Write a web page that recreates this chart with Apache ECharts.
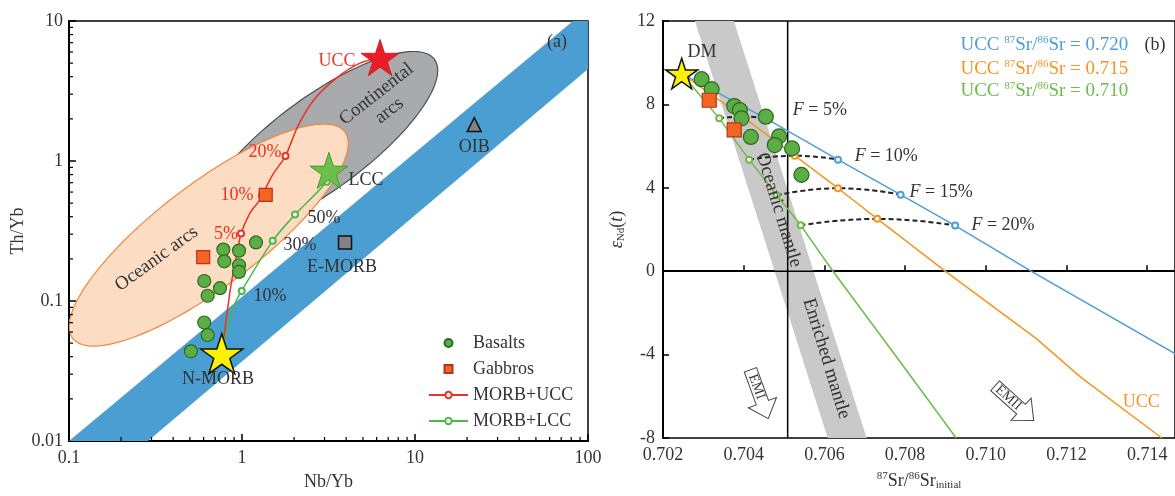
<!DOCTYPE html>
<html><head><meta charset="utf-8">
<script src="https://cdn.jsdelivr.net/npm/echarts@6/dist/echarts.min.js"></script>
<style>html,body{margin:0;padding:0;background:#fff}#c{width:1175px;height:496px}</style>
</head><body><div id="c"></div>
<script>
// ---------------- Panel (a) data: Nb/Yb vs Th/Yb ----------------
const LEFT_BASALTS = [[0.780,0.233],[0.961,0.229],[1.205,0.262],[0.790,0.192],[0.961,0.180],[0.961,0.1615],
  [0.605,0.139],[0.746,0.1235],[0.633,0.109],[0.605,0.0702],[0.633,0.0571],[0.507,0.0437]];
const LEFT_GABBROS = [[0.597,0.206],[1.371,0.572]];
const N_MORB = [0.764,0.042];
const UCC_A = [6.28,5.48];
const LCC_A = [3.18,0.857];
const OIB = [22.0,1.82];
const E_MORB = [3.94,0.262];
const MORB_UCC = [[0.764,0.042],[0.852,0.117],[0.891,0.161],[0.954,0.248],[0.987,0.303],[1.112,0.425],[1.27,0.528],
  [1.305,0.566],[1.517,0.811],[1.784,1.084],[2.107,1.78],[2.64,2.796],[3.59,3.99],[4.81,4.997],[6.28,5.48]];
const MORB_UCC_MARKS = [4,7,9];
const MORB_LCC = [[0.764,0.042],[0.872,0.0848],[0.996,0.118],[1.505,0.269],[2.025,0.414],[3.09,0.71],[3.18,0.857]];
const MORB_LCC_MARKS = [2,3,4,5];
// MORB-OIB array band corners, ellipse parameters (log10 units: centre, major half-axis, minor half-axis)
const ARRAY_BAND = [[0.1,0.01],[81.9,10],[100,10],[100,4.54],[0.286,0.01]];
const CONT_ARCS = {c:[0.4509,0.1240], M:[0.6604,0.6033], m:[0.1636,-0.2632]};
const OCEAN_ARCS = {c:[-0.1925,-0.529], M:[0.7854,0.7389], m:[0.1843,-0.2878]};
const LEFT_X_MINOR = [0.2,0.3,0.4,0.5,0.6,0.7,0.8,0.9,2,3,4,5,6,7,8,9,20,30,40,50,60,70,80,90];
const LEFT_Y_MINOR = [0.02,0.03,0.04,0.05,0.06,0.07,0.08,0.09,0.2,0.3,0.4,0.5,0.6,0.7,0.8,0.9,2,3,4,5,6,7,8,9];

// ---------------- Panel (b) data: 87Sr/86Sr vs eNd(t) ----------------
const RIGHT_BASALTS = [[0.702957,9.21],[0.703205,8.73],[0.703764,7.92],[0.703905,7.73],[0.703947,7.33],[0.704548,7.41],
  [0.704177,6.44],[0.704877,6.47],[0.704771,6.05],[0.705199,5.89],[0.705431,4.62]];
const RIGHT_GABBROS = [[0.703146,8.2],[0.703764,6.78]];
const DM = [0.702463,9.48];
const MIX_720 = [[0.702463,9.48],[0.704548,7.33],[0.706337,5.35],[0.707888,3.67],[0.709241,2.19],[0.711122,0],[0.7148,-4.08]];
const MIX_720_MARKS = [1,2,3,4];
const MIX_715 = [[0.702463,9.48],[0.703994,7.38],[0.705266,5.54],[0.706337,3.98],[0.707312,2.51],[0.708994,0],[0.711245,-3.22],[0.712359,-5.09],[0.714363,-8]];
const MIX_715_MARKS = [1,2,3,4];
const MIX_710 = [[0.702463,9.48],[0.703393,7.33],[0.704135,5.35],[0.70482,3.64],[0.705414,2.20],[0.706213,0],[0.707863,-4.31],[0.709266,-8]];
const MIX_710_MARKS = [1,2,3,4];
const F5 = [[0.703393,7.33],[0.703994,7.42],[0.704548,7.33]];
const F10 = [[0.704135,5.35],[0.705266,5.54],[0.706337,5.35]];
const F15 = [[0.70482,3.64],[0.706337,3.98],[0.707888,3.67]];
const F20 = [[0.705414,2.20],[0.707312,2.51],[0.709241,2.19]];
const MANTLE_BAND = [[0.702792,12],[0.703757,12],[0.707047,-8],[0.706082,-8]];
const VLINE_X = 0.70509;
const HLINE_Y = 0;

// ---------------- styles ----------------
const FONT = 'Liberation Serif';
const TXT = '#333';
const RED = '#ee3124', GRN = '#4cb848';
const BLUE_L = '#4a9fd8', ORANGE_L = '#f7941d', GREEN_L = '#6abd45';
const STAR = 'path://M50 0 L61.23 34.55 L97.55 34.55 L68.16 55.9 L79.39 90.45 L50 69.1 L20.61 90.45 L31.84 55.9 L2.45 34.55 L38.77 34.55 Z';
const SQUARE = 'path://M0 0 L10 0 L10 10 L0 10 Z';

function ellipsePts(e){
  const pts=[];
  for(let i=0;i<=144;i++){const t=2*Math.PI*i/144;
    const lx=e.c[0]+Math.cos(t)*e.M[0]+Math.sin(t)*e.m[0];
    const ly=e.c[1]+Math.cos(t)*e.M[1]+Math.sin(t)*e.m[1];
    pts.push([Math.pow(10,lx),Math.pow(10,ly)]);}
  return pts;
}
function areaSeries(gi, pts, fill, stroke, z){
  return {type:'custom', xAxisIndex:gi, yAxisIndex:gi, clip:true, silent:true, z:z,
    data:[pts[0]], encode:{x:0,y:1},
    renderItem:(p,api)=>({type:'polygon', shape:{points:pts.map(q=>api.coord(q))},
      style:{fill:fill, stroke:stroke||null, lineWidth:stroke?1.2:0}})};
}
function markData(pts, marks){
  return pts.map((p,i)=>marks.indexOf(i)>=0?{value:p}:{value:p, symbol:'none'});
}
function mixLine(gi, name, pts, marks, color, z){
  return {type:'line', name:name, xAxisIndex:gi, yAxisIndex:gi, data:markData(pts,marks), smooth:0.25,
    symbol:'emptyCircle', symbolSize:6, showSymbol:true, z:z||3,
    lineStyle:{color:color,width:1.5}, itemStyle:{color:color, borderWidth:1.3}, silent:true};
}
function dashLine(pts){
  return {type:'line', xAxisIndex:1, yAxisIndex:1, data:pts, smooth:0.5, symbol:'none', z:2, silent:true,
    lineStyle:{color:'#222', width:2, type:[5,3]}};
}
const basaltStyle = {color:'#5cad45', borderColor:'#2b6a20', borderWidth:1.2, opacity:1};
const gabbroStyle = {color:'#f26522', borderColor:'#b8321f', borderWidth:1.2, opacity:1};
const labelStyle = {fontFamily:FONT, fontSize:18, color:TXT};
function refItem(v, sym, size, fill, border, bw){
  return {value:v, symbol:sym, symbolSize:size, itemStyle:{color:fill, borderColor:border, borderWidth:bw, opacity:1}};
}

const chart = echarts.init(document.getElementById('c'));
const option = {
  animation:false,
  backgroundColor:'#fff',
  grid:[
    {left:69, top:21, width:519, height:428, show:true, borderColor:'#000', borderWidth:1.5, backgroundColor:'transparent'},
    {left:663, top:21, width:513, height:428, show:true, borderColor:'#000', borderWidth:1.5, backgroundColor:'transparent'}
  ],
  legend:{data:[{name:'Basalts'},{name:'Gabbros', icon:SQUARE},{name:'MORB+UCC'},{name:'MORB+LCC'}],
    orient:'vertical', left:428, top:334,
    itemWidth:39, itemHeight:8, itemGap:8, selectedMode:false, padding:0,
    textStyle:{fontFamily:FONT, fontSize:18, color:TXT, lineHeight:18}},
  xAxis:[
    {gridIndex:0, type:'log', logBase:10, min:0.1, max:100,
     axisLine:{lineStyle:{color:'#000',width:2}}, axisTick:{inside:true,length:7,lineStyle:{color:'#000',width:1.5}},
     axisLabel:Object.assign({margin:8, formatter:v=>String(+(+v).toPrecision(6))}, labelStyle),
     splitLine:{show:false}, name:'Nb/Yb', nameLocation:'middle', nameGap:32,
     nameTextStyle:{fontFamily:FONT, fontSize:18, color:TXT}},
    {gridIndex:1, type:'value', min:0.702, max:0.71469, interval:0.002,
     axisLine:{lineStyle:{color:'#000',width:2}}, axisTick:{inside:true,length:6,lineStyle:{color:'#000',width:1.5}},
     axisLabel:Object.assign({margin:8, showMaxLabel:false, formatter:v=>(+v).toFixed(3)}, labelStyle),
     splitLine:{show:false}, name:'{sup|87}Sr/{sup|86}Sr{sub|initial}', nameLocation:'middle', nameGap:33,
     nameTextStyle:{fontFamily:FONT, fontSize:18, color:TXT, lineHeight:20, rich:{
       sup:{fontFamily:FONT, fontSize:11, color:TXT, verticalAlign:'top', lineHeight:11},
       sub:{fontFamily:FONT, fontSize:11, color:TXT, verticalAlign:'bottom', lineHeight:11}}}}
  ],
  yAxis:[
    {gridIndex:0, type:'log', logBase:10, min:0.01, max:10,
     axisLine:{lineStyle:{color:'#000',width:2}}, axisTick:{inside:true,length:7,lineStyle:{color:'#000',width:1.5}},
     axisLabel:Object.assign({margin:6, formatter:v=>String(+(+v).toPrecision(6))}, labelStyle),
     splitLine:{show:false}, name:'Th/Yb', nameLocation:'middle', nameGap:42, nameRotate:90,
     nameTextStyle:{fontFamily:FONT, fontSize:18, color:TXT}},
    {gridIndex:1, type:'value', min:-8, max:12, interval:4,
     axisLine:{lineStyle:{color:'#000',width:2}}, axisTick:{inside:true,length:6,lineStyle:{color:'#000',width:1.5}},
     axisLabel:Object.assign({margin:8}, labelStyle),
     splitLine:{show:false}, name:'{it|ε}{sub|Nd}({it|t})', nameLocation:'middle', nameGap:36, nameRotate:90,
     nameTextStyle:{fontFamily:FONT, fontSize:18, color:TXT, lineHeight:20, rich:{
       it:{fontFamily:FONT, fontSize:18, fontStyle:'italic', color:TXT},
       sub:{fontFamily:FONT, fontSize:11, color:TXT, verticalAlign:'bottom', lineHeight:11}}}}
  ],
  series:[
    // ---- panel (a)
    areaSeries(0, ARRAY_BAND, '#4b9ed2', null, 1),
    areaSeries(0, ellipsePts(CONT_ARCS), '#a8aaad', '#4d4d4d', 1),
    areaSeries(0, ellipsePts(OCEAN_ARCS), '#fcdcc3', '#f0873a', 1),
    {type:'custom', xAxisIndex:0, yAxisIndex:0, silent:true, z:6, data:[[1,1]], encode:{x:0,y:1},
     renderItem:(p,api)=>{const ch=[];
       LEFT_X_MINOR.forEach(v=>{const q=api.coord([v,0.01]);ch.push({type:'line',shape:{x1:q[0],y1:q[1],x2:q[0],y2:q[1]-4},style:{stroke:'#000',lineWidth:1.2}});});
       LEFT_Y_MINOR.forEach(v=>{const q=api.coord([0.1,v]);ch.push({type:'line',shape:{x1:q[0],y1:q[1],x2:q[0]+4,y2:q[1]},style:{stroke:'#000',lineWidth:1.2}});});
       return {type:'group',children:ch};}},
    mixLine(0,'MORB+UCC',MORB_UCC,MORB_UCC_MARKS,RED),
    mixLine(0,'MORB+LCC',MORB_LCC,MORB_LCC_MARKS,GRN),
    {type:'scatter', name:'Basalts', xAxisIndex:0, yAxisIndex:0, data:LEFT_BASALTS, symbol:'circle', symbolSize:13, itemStyle:basaltStyle, z:4, silent:true},
    {type:'scatter', name:'Gabbros', xAxisIndex:0, yAxisIndex:0, data:LEFT_GABBROS, symbol:'rect', symbolSize:13, itemStyle:gabbroStyle, z:4, silent:true},
    {type:'scatter', name:'refA', xAxisIndex:0, yAxisIndex:0, z:5, silent:true, symbolKeepAspect:true, data:[
      refItem(OIB,'triangle',14,'#808285','#111',1.5),
      refItem(E_MORB,'rect',13,'#808285','#111',1.5),
      refItem(UCC_A,STAR,38,'#ed1c24','#c1272d',1),
      refItem(LCC_A,STAR,38,'#6dbf4b','#4a9a35',1),
      refItem(N_MORB,STAR,42,'#fff200','#111',1.5)]},
    // ---- panel (b)
    areaSeries(1, MANTLE_BAND, '#c9c9c9', null, 1),
    {type:'line', xAxisIndex:1, yAxisIndex:1, data:[[VLINE_X,12],[VLINE_X,-8]], symbol:'none', z:2, silent:true, lineStyle:{color:'#000',width:1.5}},
    {type:'line', xAxisIndex:1, yAxisIndex:1, data:[[0.702,HLINE_Y],[0.7147,HLINE_Y]], symbol:'none', z:2, silent:true, lineStyle:{color:'#000',width:1.5}},
    dashLine(F5), dashLine(F10), dashLine(F15), dashLine(F20),
    Object.assign(mixLine(1,'mix720',MIX_720,MIX_720_MARKS,BLUE_L), {smooth:false}),
    Object.assign(mixLine(1,'mix715',MIX_715,MIX_715_MARKS,ORANGE_L), {smooth:false}),
    Object.assign(mixLine(1,'mix710',MIX_710,MIX_710_MARKS,GREEN_L), {smooth:false}),
    {type:'scatter', name:'Basalts', xAxisIndex:1, yAxisIndex:1, data:RIGHT_BASALTS, symbol:'circle', symbolSize:15, itemStyle:basaltStyle, z:4, silent:true},
    {type:'scatter', name:'Gabbros', xAxisIndex:1, yAxisIndex:1, data:RIGHT_GABBROS, symbol:'rect', symbolSize:14, itemStyle:gabbroStyle, z:4, silent:true},
    {type:'scatter', name:'refB', xAxisIndex:1, yAxisIndex:1, z:5, silent:true, symbolKeepAspect:true, data:[
      refItem(DM,STAR,32,'#fff200','#111',1.5)]}
  ]
};
chart.setOption(option);

// ---------------- annotations (anchored in data coordinates) ----------------
const A_LABELS = [
  {pos:[3.54,5.16], text:'UCC', color:RED},
  {pos:[66.2,7.01], text:'(a)'},
  {pos:[6.53,2.62], text:'Continental\narcs', rot:38, size:19},
  {pos:[0.321,0.2005], text:'Oceanic arcs', rot:36, size:19},
  {pos:[22.0,1.247], text:'OIB'},
  {pos:[3.79,0.174], text:'E-MORB'},
  {pos:[0.727,0.0277], text:'N-MORB'},
  {pos:[5.21,0.732], text:'LCC'},
  {pos:[1.36,1.151], text:'20%', color:RED},
  {pos:[0.936,0.571], text:'10%', color:RED},
  {pos:[0.808,0.3015], text:'5%', color:RED},
  {pos:[1.451,0.1074], text:'10%'},
  {pos:[2.164,0.2485], text:'30%'},
  {pos:[2.98,0.390], text:'50%'}
];
const B_LABELS = [
  {pos:[0.702965,10.50], text:'DM'},
  {pos:[0.705216,7.70], text:'{it|F} = 5%', align:'left'},
  {pos:[0.70675,5.50], text:'{it|F} = 10%', align:'left'},
  {pos:[0.708111,3.78], text:'{it|F} = 15%', align:'left'},
  {pos:[0.709645,2.19], text:'{it|F} = 20%', align:'left'},
  {pos:[0.709373,10.83], text:'UCC {sup|87}Sr/{sup|86}Sr = 0.720', align:'left', color:BLUE_L, size:19},
  {pos:[0.709373,9.71], text:'UCC {sup|87}Sr/{sup|86}Sr = 0.715', align:'left', color:ORANGE_L, size:19},
  {pos:[0.709373,8.64], text:'UCC {sup|87}Sr/{sup|86}Sr = 0.710', align:'left', color:GREEN_L, size:19},
  {pos:[0.714197,10.83], text:'(b)'},
  {pos:[0.70487,2.93], text:'Oceanic mantle', rot:-73, size:19},
  {pos:[0.70605,-4.19], text:'Enriched mantle', rot:-73, size:19},
  {pos:[0.713851,-6.27], text:'UCC', color:ORANGE_L}
];
const B_ARROWS = [
  {pos:[0.704387,-5.90], text:'EMI', rot:-70},
  {pos:[0.710709,-6.33], text:'EMII', rot:-42}
];

function textEl(gi, L){
  const q = chart.convertToPixel({gridIndex:gi}, L.pos);
  const col = L.color || TXT;
  const size = L.size || 18;
  const al = L.align || 'center';
  return {type:'text', x:q[0], y:q[1], rotation:(L.rot||0)*Math.PI/180, z:100, silent:true,
    style:{text:L.text, fill:col, fontFamily:FONT, fontSize:size, lineHeight:21,
      align:al, verticalAlign:'middle', textAlign:al, textVerticalAlign:'middle',
      rich:{
        it:{fill:col, fontFamily:FONT, fontSize:size, fontStyle:'italic', lineHeight:21},
        sup:{fill:col, fontFamily:FONT, fontSize:11, verticalAlign:'top', lineHeight:11}
      }}};
}
function arrowEl(A){
  const q = chart.convertToPixel({gridIndex:1}, A.pos);
  return {type:'group', x:q[0], y:q[1], rotation:A.rot*Math.PI/180, z:100, silent:true, children:[
    {type:'polygon', shape:{points:[[-26,-6.5],[9,-6.5],[9,-15],[26,0],[9,15],[9,6.5],[-26,6.5]]},
     style:{fill:'#fff', stroke:'#444', lineWidth:1}},
    {type:'text', x:-8, y:0, style:{text:A.text, fill:'#333', fontFamily:FONT, fontSize:14,
      align:'center', verticalAlign:'middle', textAlign:'center', textVerticalAlign:'middle'}}
  ]};
}
const graphics = [];
A_LABELS.forEach(L=>graphics.push(textEl(0,L)));
B_LABELS.forEach(L=>graphics.push(textEl(1,L)));
B_ARROWS.forEach(A=>graphics.push(arrowEl(A)));
chart.setOption({graphic:{elements:graphics}});
</script></body></html>
